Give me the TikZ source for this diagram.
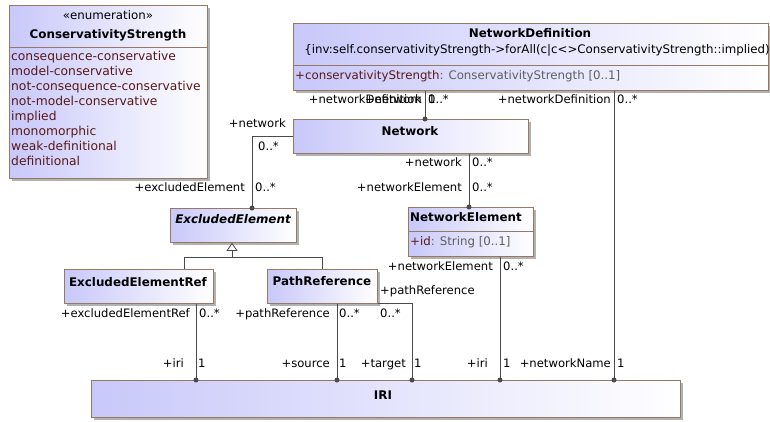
\documentclass[tikz,border=0pt]{standalone}
\usepackage{fontspec}
\setmainfont{DejaVu Sans}
\usetikzlibrary{shadows,arrows.meta,calc}
\definecolor{umlfill}{RGB}{200,200,250}
\definecolor{umlborder}{RGB}{150,120,100}
\definecolor{umlline}{RGB}{75,75,75}
\definecolor{litcol}{RGB}{90,25,25}
\definecolor{typecol}{RGB}{95,95,95}
\begin{document}
\begin{tikzpicture}[x=1pt,y=-1pt,
  font=\fontsize{11.6}{14}\selectfont,
  umlbox/.style={draw=umlborder, line width=0.8pt, left color=umlfill, right color=white,
    inner sep=0pt, anchor=north west,
    general shadow={fill=black!30, shadow xshift=3pt, shadow yshift=-3pt}},
  sep/.style={draw=umlborder, line width=0.8pt},
  title/.style={inner sep=0pt, font=\fontsize{11.9}{14}\selectfont\bfseries},
  txt/.style={inner sep=0pt, font=\fontsize{11.8}{14}\selectfont},
  le/.style={inner sep=0pt, anchor=mid east},
  lw/.style={inner sep=0pt, anchor=mid west},
  assoc/.style={draw=umlline, line width=0.8pt},
  dot/.style={fill=umlline}
]
\useasboundingbox (0,0) rectangle (770,421);

% ---------- ConservativityStrength
\node[umlbox, minimum width=198pt, minimum height=173pt] (cs) at (9,5) {};
\draw[sep] (9,47) -- (207,47);
\node[txt] (csst) at (108,15) {«enumeration»};
\node[title] (cst) at (108,35) {ConservativityStrength};
\node[txt, anchor=north west, align=left, text=litcol, font=\fontsize{12.3}{15}\selectfont] (csl) at (11,51)
 {consequence-conservative\\model-conservative\\not-consequence-conservative\\not-model-conservative\\implied\\monomorphic\\weak-definitional\\definitional};

% ---------- NetworkDefinition
\node[umlbox, minimum width=475pt, minimum height=67pt] (nd) at (293,23) {};
\draw[sep] (293,65) -- (768,65);
\node[title] (ndt) at (530,33) {NetworkDefinition};
\node[txt] (ndc) at (537,50) {\{inv:self.conservativityStrength->forAll(c|c<>ConservativityStrength::implied)};
\node[txt, anchor=mid west] (nda) at (295,77) {\textcolor{litcol}{+conservativityStrength}\textcolor{typecol}{ : ConservativityStrength [0..1]}};

% ---------- Network
\node[umlbox, minimum width=235pt, minimum height=34pt] (net) at (293,119) {};
\node[title] (nett) at (410,131) {Network};

% ---------- ExcludedElement
\node[umlbox, minimum width=126pt, minimum height=34pt] (ee) at (170,208) {};
\node[title, font=\fontsize{11.9}{14}\selectfont\bfseries\itshape] (eet) at (233,219) {ExcludedElement};

% ---------- NetworkElement
\node[umlbox, minimum width=125pt, minimum height=49pt] (ne) at (408,207) {};
\draw[sep] (408,231) -- (533,231);
\node[title, anchor=mid west] (net2) at (410,219) {NetworkElement};
\node[txt, anchor=mid west] (nea) at (410,243) {\textcolor{litcol}{+id}\textcolor{typecol}{ : String [0..1]}};

% ---------- ExcludedElementRef
\node[umlbox, minimum width=149pt, minimum height=34pt] (eer) at (64,269) {};
\node[title] (eert) at (138,282) {ExcludedElementRef};

% ---------- PathReference
\node[umlbox, minimum width=110pt, minimum height=34pt] (pr) at (267,269) {};
\node[title] (prt) at (322,281) {PathReference};

% ---------- IRI
\node[umlbox, minimum width=589pt, minimum height=37pt] (iri) at (91,380) {};
\node[title] (irit) at (383,395) {IRI};

% ---------- helper x coordinates
\coordinate (cA) at (425,0);
\coordinate (cB) at (614,0);
\coordinate (cC) at (252,0);
\coordinate (cE) at (184,0);
\coordinate (cF) at (322,0);
\coordinate (gj) at (232,257);
\coordinate (cH) at (196,0);
\coordinate (cI) at (337,0);
\coordinate (cJ) at (412,0);
\coordinate (cK) at (500,0);
\coordinate (cD) at (469,0);

% ---------- connectors
\draw[assoc] (nd.south -| cA) -- (net.north -| cA) coordinate (eA);
\fill[dot] (eA) circle (2.5);
\draw[assoc] (nd.south -| cB) -- (iri.north -| cB) coordinate (eB);
\fill[dot] (eB) circle (2.5);
\draw[assoc] (net.west) -| (ee.north -| cC) coordinate (eC);
\fill[dot] (eC) circle (2.5);
\draw[assoc] (net.south -| cD) -- (ne.north -| cD) coordinate (eD);
\fill[dot] (eD) circle (2.5);
\draw[assoc] (eer.north -| cE) -- (cE |- gj) -- (cF |- gj) -- (pr.north -| cF);
\draw[assoc, -{Triangle[open, length=8pt, width=11pt]}] (gj) -- (ee.south -| gj);
\draw[assoc] (eer.south -| cH) -- (iri.north -| cH) coordinate (eH);
\fill[dot] (eH) circle (2.5);
\draw[assoc] (pr.south -| cI) -- (iri.north -| cI) coordinate (eI);
\fill[dot] (eI) circle (2.5);
\draw[assoc] (pr.south east) -- (cJ |- pr.south) -- (iri.north -| cJ) coordinate (eJ);
\fill[dot] (eJ) circle (2.5);
\draw[assoc] (ne.south -| cK) -- (iri.north -| cK) coordinate (eK);
\fill[dot] (eK) circle (2.5);

% ---------- role labels
\node[le] (l1) at (422,101) {+networkDefinition};
\node[le] (l2) at (422,101) {+network};
\node[lw] (l3) at (428,101) {1};
\node[lw] (l4) at (428,101) {0..*};
\node[le] (l5) at (611,101) {+networkDefinition};
\node[lw] (l6) at (617,101) {0..*};
\node[le] (l7) at (611,365) {+networkName};
\node[lw] (l8) at (617,365) {1};
\node[le] (l9) at (286,125) {+network};
\node[lw] (l10) at (258,148) {0..*};
\node[le] (l11) at (245,189) {+excludedElement};
\node[lw] (l12) at (255,189) {0..*};
\node[le] (l13) at (462,164) {+network};
\node[lw] (l14) at (472,164) {0..*};
\node[le] (l15) at (462,189) {+networkElement};
\node[lw] (l16) at (472,189) {0..*};
\node[le] (l17) at (190,315) {+excludedElementRef};
\node[lw] (l18) at (199,315) {0..*};
\node[le] (l19) at (184,365) {+iri};
\node[lw] (l20) at (198,365) {1};
\node[le] (l21) at (330,315) {+pathReference};
\node[lw] (l22) at (339,315) {0..*};
\node[le] (l23) at (330,365) {+source};
\node[lw] (l24) at (339,365) {1};
\node[lw] (l25) at (380,292) {+pathReference};
\node[lw] (l26) at (380,315) {0..*};
\node[le] (l27) at (406,365) {+target};
\node[lw] (l28) at (414,365) {1};
\node[le] (l29) at (493,268) {+networkElement};
\node[lw] (l30) at (503,268) {0..*};
\node[le] (l31) at (488,365) {+iri};
\node[lw] (l32) at (503,365) {1};
\end{tikzpicture}
\end{document}
